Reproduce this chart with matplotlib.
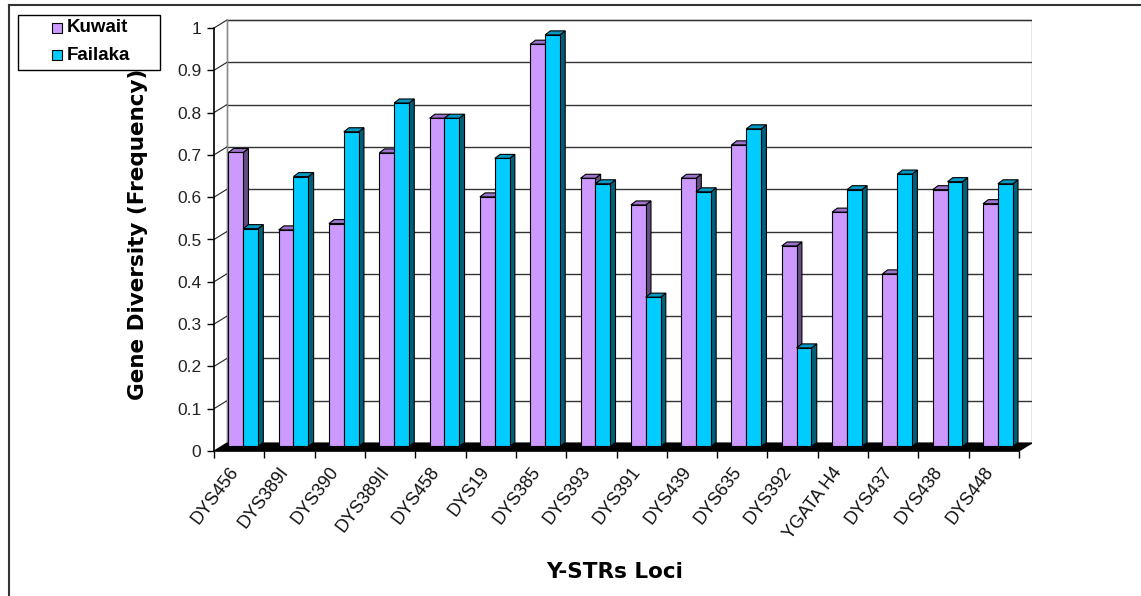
import numpy as np
import matplotlib.pyplot as plt
from matplotlib.patches import Polygon, Rectangle

# Y-STR loci and gene diversity per population
loci = ['DYS456', 'DYS389I', 'DYS390', 'DYS389II', 'DYS458', 'DYS19', 'DYS385',
        'DYS393', 'DYS391', 'DYS439', 'DYS635', 'DYS392', 'YGATA H4', 'DYS437',
        'DYS438', 'DYS448']
kuwait = [0.695, 0.512, 0.527, 0.694, 0.776, 0.590, 0.951, 0.634, 0.571, 0.634,
          0.713, 0.474, 0.554, 0.408, 0.607, 0.574]
failaka = [0.515, 0.638, 0.744, 0.812, 0.776, 0.681, 0.973, 0.621, 0.353, 0.602,
           0.751, 0.233, 0.607, 0.644, 0.626, 0.621]
y_ticks = [0, 0.1, 0.2, 0.3, 0.4, 0.5, 0.6, 0.7, 0.8, 0.9, 1.0]
y_tick_labels = ['0', '0.1', '0.2', '0.3', '0.4', '0.5', '0.6', '0.7', '0.8', '0.9', '1']

plt.rcParams['font.family'] = ['Liberation Sans', 'DejaVu Sans']

# pseudo-3D geometry (data units)
wall_dx, wall_dy = 0.258, 0.0189     # depth of the back wall
bar_dx, bar_dy = 0.105, 0.0095      # depth of each column
bar_base = 0.0107                   # columns stand a little behind the front edge
bar_w = 0.295
bar_off = 0.285

k_face, k_top, k_side = '#CC99FF', '#9C74CC', '#664C85'
f_face, f_top, f_side = '#00CCFF', '#0099C4', '#00607A'

fig = plt.figure(figsize=(11.41, 5.96), dpi=100)
ax = fig.add_axes([214 / 1141, 145 / 596, 818 / 1141, 432 / 596])
n = len(loci)
ax.set_xlim(0, n + wall_dx)
ax.set_ylim(0, 432 / 423)
ax.patch.set_visible(False)

# back wall with gridlines
ax.add_patch(Rectangle((wall_dx, wall_dy), n, 1.0, fc='white', ec='#8c8c8c', lw=1.0, zorder=0))
for v in y_ticks[1:]:
    ax.plot([wall_dx, n + wall_dx], [v + wall_dy, v + wall_dy], color='#333333', lw=1.0, zorder=1)
    ax.plot([0, wall_dx], [v, v + wall_dy], color='#222222', lw=0.8, zorder=1)
ax.plot([wall_dx, wall_dx], [wall_dy, 1 + wall_dy], color='#8c8c8c', lw=1.0, zorder=1)

# black floor
ax.add_patch(Polygon([(0, 0), (n, 0), (n + wall_dx, wall_dy), (wall_dx, wall_dy)],
                     fc='black', ec='black', lw=0.8, zorder=2))


def column(x0, h, face, top, side):
    y0, y1 = bar_base, bar_base + h
    x1 = x0 + bar_w
    ax.add_patch(Polygon([(x1, y0), (x1 + bar_dx, y0 + bar_dy), (x1 + bar_dx, y1 + bar_dy), (x1, y1)],
                         fc=side, ec='black', lw=0.8, zorder=3))
    ax.add_patch(Polygon([(x0, y1), (x0 + bar_dx, y1 + bar_dy), (x1 + bar_dx, y1 + bar_dy), (x1, y1)],
                         fc=top, ec='black', lw=0.8, zorder=3))
    ax.add_patch(Rectangle((x0, y0), bar_w, h, fc=face, ec='black', lw=0.8, zorder=3))


for i in range(n):
    column(i + bar_off, kuwait[i], k_face, k_top, k_side)
    column(i + bar_off + bar_w, failaka[i], f_face, f_top, f_side)

# axes lines and ticks
for s in ['top', 'right']:
    ax.spines[s].set_visible(False)
ax.spines['left'].set_bounds(0, 1)
ax.spines['bottom'].set_bounds(0, n)
ax.spines['left'].set_linewidth(1.2)
ax.spines['bottom'].set_linewidth(1.2)
ax.spines['left'].set_zorder(5)
ax.spines['bottom'].set_zorder(5)

ax.set_yticks(y_ticks)
ax.set_yticklabels(y_tick_labels, fontsize=12.5, color='#222222')
ax.tick_params(axis='y', direction='out', length=5, width=1.0, pad=4)

ax.set_xticks(np.arange(n + 1))
ax.set_xticklabels([])
ax.tick_params(axis='x', which='major', direction='out', length=5, width=1.0)
ax.set_xticks(np.arange(n) + 0.42, minor=True)
ax.set_xticklabels(loci, minor=True, fontsize=13, rotation=53,
                   ha='right', va='center', rotation_mode='anchor', color='#111111')
ax.tick_params(axis='x', which='minor', length=0, pad=13)

# axis titles
fig.text(138 / 1141, 1 - 234 / 596, 'Gene Diversity (Frequency)', rotation=90,
         ha='center', va='center', fontsize=15.5, fontweight='bold', family='DejaVu Sans')
fig.text(615 / 1141, 1 - 572 / 596, 'Y-STRs Loci', ha='center', va='center',
         fontsize=15.5, fontweight='bold', family='DejaVu Sans')

# legend box
fig.add_artist(Rectangle((18 / 1141, 1 - 70 / 596), 142 / 1141, 55 / 596,
                         transform=fig.transFigure, fc='white', ec='black', lw=1.0))
for yy, lab, col in [(28, 'Kuwait', k_face), (55, 'Failaka', f_face)]:
    fig.add_artist(Rectangle((52 / 1141, 1 - (yy + 5) / 596), 10 / 1141, 10 / 596,
                             transform=fig.transFigure, fc=col, ec='black', lw=0.8))
    fig.text(67 / 1141, 1 - yy / 596, lab, ha='left', va='center',
             fontsize=13.5, fontweight='bold')

# chart border
fig.add_artist(plt.Line2D([9 / 1141, 1], [1 - 5 / 596, 1 - 5 / 596],
                          transform=fig.transFigure, color='#333333', lw=1.5))
fig.add_artist(plt.Line2D([9 / 1141, 9 / 1141], [0, 1 - 5 / 596],
                          transform=fig.transFigure, color='#333333', lw=1.5))

fig.savefig('out.png', dpi=100)
